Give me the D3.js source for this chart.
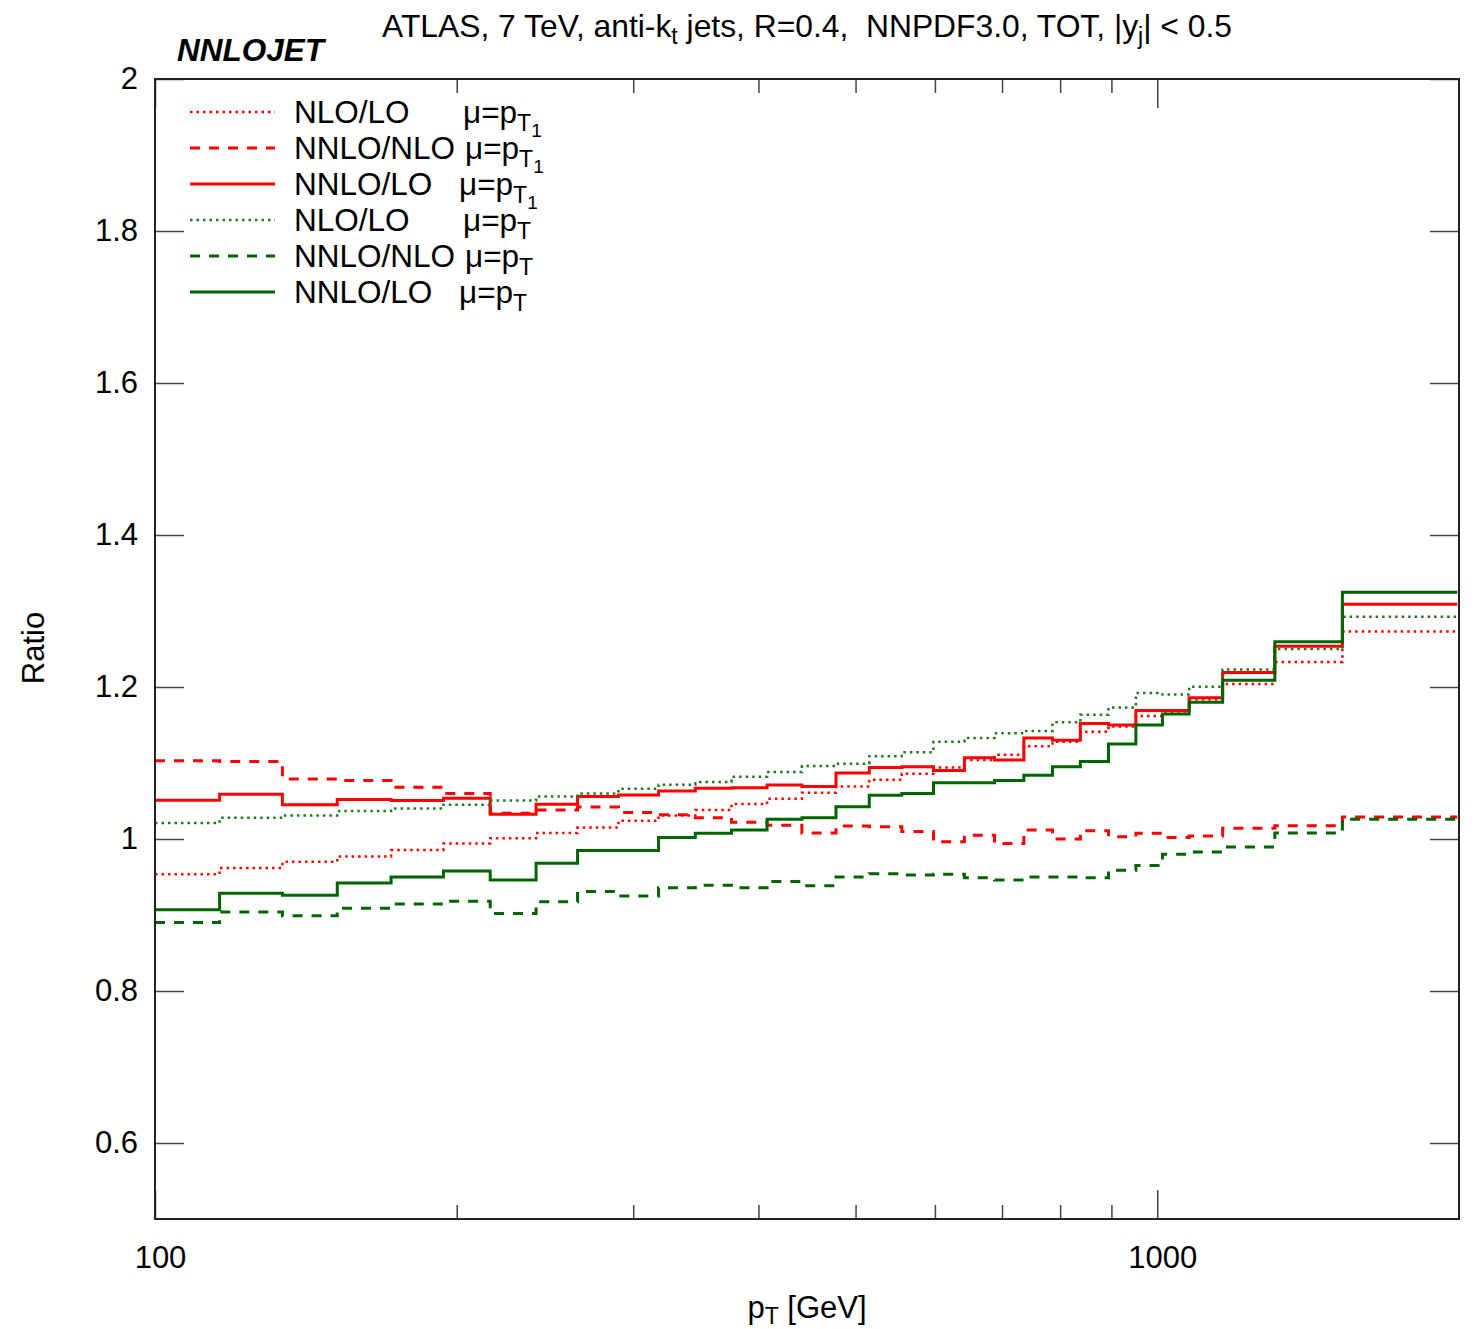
<!DOCTYPE html>
<html>
<head>
<meta charset="utf-8">
<script src="https://cdn.jsdelivr.net/npm/d3@7"></script>
<style>
  body { margin: 0; background: #fff; }
  text { font-family: "Liberation Sans", Arial, sans-serif; fill: #000; }
</style>
</head>
<body>
<script>
// bin edges in pT [GeV]
const edges = [100, 116, 134, 152, 172, 194, 216, 240, 264, 290, 318, 346, 376, 408, 442, 478,
  516, 556, 598, 642, 688, 736, 786, 838, 894, 952, 1012, 1076, 1162, 1310, 1530, 1992];

// ratios per bin
const nloLoPt1 = [0.9535, 0.962, 0.970, 0.977, 0.9855, 0.994, 1.001, 1.008, 1.015, 1.024, 1.031,
  1.038, 1.046, 1.053, 1.061, 1.069, 1.078, 1.086, 1.094, 1.104, 1.111, 1.122, 1.128, 1.141,
  1.148, 1.162, 1.165, 1.184, 1.204, 1.233, 1.273];
const nnloNloPt1 = [1.103, 1.102, 1.079, 1.077, 1.068, 1.060, 1.034, 1.038, 1.042, 1.035, 1.032,
  1.028, 1.022, 1.018, 1.008, 1.017, 1.016, 1.010, 0.9965, 1.005, 0.994, 1.012, 1.000, 1.011,
  1.003, 1.0075, 1.002, 1.004, 1.014, 1.0175, 1.029];
const nnloLoPt1 = [1.051, 1.059, 1.045, 1.052, 1.0505, 1.0535, 1.0325, 1.0456, 1.056, 1.058, 1.063,
  1.0667, 1.0675, 1.071, 1.069, 1.087, 1.094, 1.095, 1.090, 1.107, 1.104, 1.133, 1.130, 1.152,
  1.150, 1.169, 1.169, 1.186, 1.219, 1.2535, 1.309];
const nloLoPt = [1.021, 1.028, 1.031, 1.037, 1.040, 1.045, 1.0505, 1.056, 1.060, 1.066, 1.0715,
  1.075, 1.082, 1.088, 1.096, 1.099, 1.109, 1.114, 1.128, 1.133, 1.139, 1.142, 1.1535, 1.1636,
  1.173, 1.192, 1.190, 1.2004, 1.223, 1.250, 1.2925];
const nnloNloPt = [0.890, 0.904, 0.899, 0.909, 0.9145, 0.918, 0.902, 0.9175, 0.931, 0.925, 0.936,
  0.939, 0.936, 0.944, 0.9386, 0.950, 0.9544, 0.9526, 0.9535, 0.949, 0.946, 0.950, 0.950, 0.949,
  0.959, 0.965, 0.980, 0.983, 0.9895, 1.008, 1.026];
const nnloLoPt = [0.907, 0.9285, 0.926, 0.942, 0.950, 0.958, 0.946, 0.968, 0.985, 0.985, 1.002,
  1.0075, 1.012, 1.026, 1.028, 1.0425, 1.0575, 1.060, 1.074, 1.074, 1.077, 1.084, 1.095, 1.102,
  1.125, 1.150, 1.1645, 1.180, 1.209, 1.2596, 1.3246];

const seriesNames = ["NLO/LO", "NNLO/NLO", "NNLO/LO", "NLO/LO", "NNLO/NLO", "NNLO/LO"];
const yTicks = [0.6, 0.8, 1, 1.2, 1.4, 1.6, 1.8, 2];
const xMajor = [100, 1000];
const xMinor = [200, 300, 400, 500, 600, 700, 800, 900];

const width = 1474, height = 1329;
const m = { left: 155, right: 1459, top: 79, bottom: 1219 };

const red = "#ff0000", green = "#006400";
const styles = [
  { color: red, dash: "2.5,4", w: 2.5 },
  { color: red, dash: "10,9", w: 3 },
  { color: red, dash: null, w: 3 },
  { color: "#1f7a1f", dash: "2.5,4", w: 2.5 },
  { color: green, dash: "10,9", w: 3 },
  { color: green, dash: null, w: 3 }
];
const series = [nloLoPt1, nnloNloPt1, nnloLoPt1, nloLoPt, nnloNloPt, nnloLoPt];

const svg = d3.select("body").append("svg")
  .attr("width", width)
  .attr("height", height);

const x = d3.scaleLog().domain([100, 2000]).range([m.left, m.right]);
const y = d3.scaleLinear().domain([0.5, 2]).range([m.bottom, m.top]);

// axes (ticks pointing inward)
function styleAxis(g) {
  g.select(".domain").remove();
  g.selectAll(".tick line").attr("stroke", "#444").attr("stroke-width", 1.5);
  g.selectAll("text").style("font-size", "31px").attr("fill", "#000");
}

svg.append("g")
  .attr("transform", "translate(" + m.left + ",0)")
  .call(d3.axisLeft(y).tickValues(yTicks).tickSize(-29)
    .tickFormat(d3.format("~g")))
  .call(styleAxis)
  .selectAll("text").attr("x", -17);

svg.append("g")
  .attr("transform", "translate(" + m.right + ",0)")
  .call(d3.axisRight(y).tickValues(yTicks).tickSize(-29).tickFormat(""))
  .call(styleAxis);

// bottom major + minor
svg.append("g")
  .attr("transform", "translate(0," + m.bottom + ")")
  .call(d3.axisBottom(x).tickValues(xMajor).tickSize(-29).tickFormat(d3.format("d")))
  .call(styleAxis)
  .selectAll("text").attr("y", 27).attr("dx", 5);

svg.append("g")
  .attr("transform", "translate(0," + m.bottom + ")")
  .call(d3.axisBottom(x).tickValues(xMinor).tickSize(-14).tickFormat(""))
  .call(styleAxis);

// top major + minor
svg.append("g")
  .attr("transform", "translate(0," + m.top + ")")
  .call(d3.axisTop(x).tickValues(xMajor).tickSize(-29).tickFormat(""))
  .call(styleAxis);

svg.append("g")
  .attr("transform", "translate(0," + m.top + ")")
  .call(d3.axisTop(x).tickValues(xMinor).tickSize(-14).tickFormat(""))
  .call(styleAxis);

// histogram step lines
const line = d3.line()
  .x(d => x(d[0]))
  .y(d => y(d[1]))
  .curve(d3.curveStepAfter);

const plot = svg.append("g");

series.forEach((vals, s) => {
  const pts = edges.map((e, i) => [e, vals[Math.min(i, vals.length - 1)]]);
  plot.append("path")
    .datum(pts)
    .attr("fill", "none")
    .attr("stroke", styles[s].color)
    .attr("stroke-width", styles[s].w)
    .attr("stroke-dasharray", styles[s].dash)
    .attr("d", line);
});

// frame
svg.append("rect")
  .attr("x", m.left).attr("y", m.top)
  .attr("width", m.right - m.left).attr("height", m.bottom - m.top)
  .attr("fill", "none")
  .attr("stroke", "#222")
  .attr("stroke-width", 2);

// legend
const muX = [463, 465, 459, 463, 465, 459];
const legend = svg.append("g");
seriesNames.forEach((name, i) => {
  const cy = 112 + i * 36;
  legend.append("line")
    .attr("x1", 190).attr("x2", 275)
    .attr("y1", cy).attr("y2", cy)
    .attr("stroke", styles[i].color)
    .attr("stroke-width", styles[i].w)
    .attr("stroke-dasharray", styles[i].dash);
  const t = legend.append("text")
    .attr("x", 294).attr("y", cy + 11)
    .style("font-size", "31.5px");
  t.append("tspan").text(name);
  t.append("tspan").attr("x", muX[i]).text("\u03bc=p");
  t.append("tspan").attr("dy", 8).style("font-size", "23px").text("T");
  if (i < 3) {
    t.append("tspan").attr("dy", 6).style("font-size", "19px").text("1");
  }
});

// title
const title = svg.append("text")
  .attr("x", (m.left + m.right) / 2).attr("y", 37)
  .attr("text-anchor", "middle")
  .style("font-size", "31.8px")
  .style("white-space", "pre");
title.append("tspan").text("ATLAS, 7 TeV, anti-k");
title.append("tspan").attr("dy", 7).style("font-size", "23px").text("t");
title.append("tspan").attr("dy", -7).text(" jets, R=0.4,  NNPDF3.0, TOT, |y");
title.append("tspan").attr("dy", 7).style("font-size", "23px").text("j");
title.append("tspan").attr("dy", -7).text("| < 0.5");

svg.append("text")
  .attr("x", 177).attr("y", 61)
  .style("font-size", "31.5px")
  .style("font-weight", "bold")
  .style("font-style", "italic")
  .text("NNLOJET");

// axis labels
const xl = svg.append("text")
  .attr("x", (m.left + m.right) / 2).attr("y", 1318)
  .attr("text-anchor", "middle")
  .style("font-size", "31px");
xl.append("tspan").text("p");
xl.append("tspan").attr("dy", 6).style("font-size", "23px").text("T");
xl.append("tspan").attr("dy", -6).text(" [GeV]");

svg.append("text")
  .attr("transform", "translate(44,648) rotate(-90)")
  .attr("text-anchor", "middle")
  .style("font-size", "31px")
  .text("Ratio");
</script>
</body>
</html>
